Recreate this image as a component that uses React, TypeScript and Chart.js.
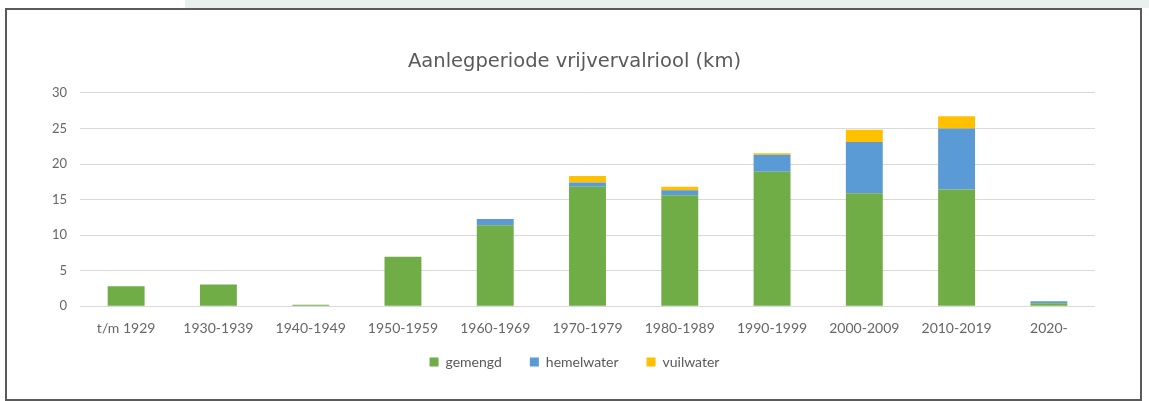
import React, { useEffect, useRef } from "react";
import { Chart, registerables } from "chart.js";

Chart.register(...registerables);

const categories = [
  "t/m 1929", "1930-1939", "1940-1949", "1950-1959", "1960-1969", "1970-1979",
  "1980-1989", "1990-1999", "2000-2009", "2010-2019", "2020-",
];
const gemengd = [2.8, 3.05, 0.2, 6.95, 11.4, 16.8, 15.6, 18.9, 15.9, 16.4, 0.4];
const hemelwater = [0, 0, 0, 0, 0.85, 0.6, 0.7, 2.4, 7.2, 8.6, 0.3];
const vuilwater = [0, 0, 0, 0, 0, 0.9, 0.5, 0.2, 1.7, 1.7, 0];
const yTicks = [0, 5, 10, 15, 20, 25, 30];

const legendShift = {
  id: "legendShift",
  afterLayout(chart: any) {
    const lg = chart.legend;
    if (lg) {
      lg.top -= 22;
      lg.bottom -= 22;
    }
  },
};

export default function App() {
  const ref = useRef<HTMLCanvasElement | null>(null);
  useEffect(() => {
    if (!ref.current) return;
    const chart = new Chart(ref.current, {
      type: "bar",
      data: {
        labels: categories,
        datasets: [
          { label: "gemengd", data: gemengd, backgroundColor: "#70ad47" },
          { label: "hemelwater", data: hemelwater, backgroundColor: "#5b9bd5" },
          { label: "vuilwater", data: vuilwater, backgroundColor: "#ffc000" },
        ],
      },
      plugins: [legendShift],
      options: {
        animation: false,
        responsive: false,
        maintainAspectRatio: false,
        layout: { padding: { left: 0, right: 0, top: 0, bottom: 0 } },
        datasets: { bar: { categoryPercentage: 0.8, barPercentage: 0.5 } },
        plugins: {
          title: {
            display: true,
            text: "Aanlegperiode vrijvervalriool (km)",
            color: "#595959",
            font: { family: "DejaVu Sans", size: 19.5, weight: "normal" },
            padding: { top: 50, bottom: 19.5 },
          },
          legend: {
            position: "bottom",
            labels: {
              boxWidth: 9,
              boxHeight: 9,
              color: "#595959",
              font: { family: "Lato", size: 14 },
              padding: 28,
            },
          },
          tooltip: { enabled: false },
        },
        scales: {
          x: {
            stacked: true,
            afterFit: (s: any) => { s.height = s.height - 2; },
            grid: { display: false, drawTicks: false },
            border: { display: false },
            ticks: { color: "#666", font: { family: "Lato", size: 14 }, padding: 14, maxRotation: 0, autoSkip: false },
          },
          y: {
            stacked: true,
            min: 0,
            max: 30,
            afterFit: (s: any) => { s.width = 80; },
            afterBuildTicks: (s: any) => { s.ticks = yTicks.map((v) => ({ value: v })); },
            grid: { color: "#d9d9d9", lineWidth: 1, drawTicks: false },
            border: { display: false },
            ticks: { color: "#666", font: { family: "Lato", size: 13 }, padding: 13 },
          },
          yRight: {
            position: "right",
            display: true,
            min: 0,
            max: 30,
            afterFit: (s: any) => { s.width = 54; },
            grid: { display: false, drawTicks: false },
            border: { display: false },
            ticks: { display: false },
          },
        },
      },
    });
    return () => chart.destroy();
  }, []);
  return (
    <div style={{ position: "fixed", left: 0, top: 0, width: 1149, height: 401, background: "#fff", overflow: "hidden" }}>
      <div style={{ position: "absolute", left: 185, top: 0, width: 964, height: 8, background: "#e8f1ed" }} />
      <canvas ref={ref} width={1149} height={401} style={{ position: "absolute", left: 0, top: 0 }} />
      <div
        style={{
          position: "absolute",
          left: 5,
          top: 8,
          width: 1133,
          height: 389,
          border: "2px solid #5a5a5a",
          pointerEvents: "none",
        }}
      />
    </div>
  );
}
